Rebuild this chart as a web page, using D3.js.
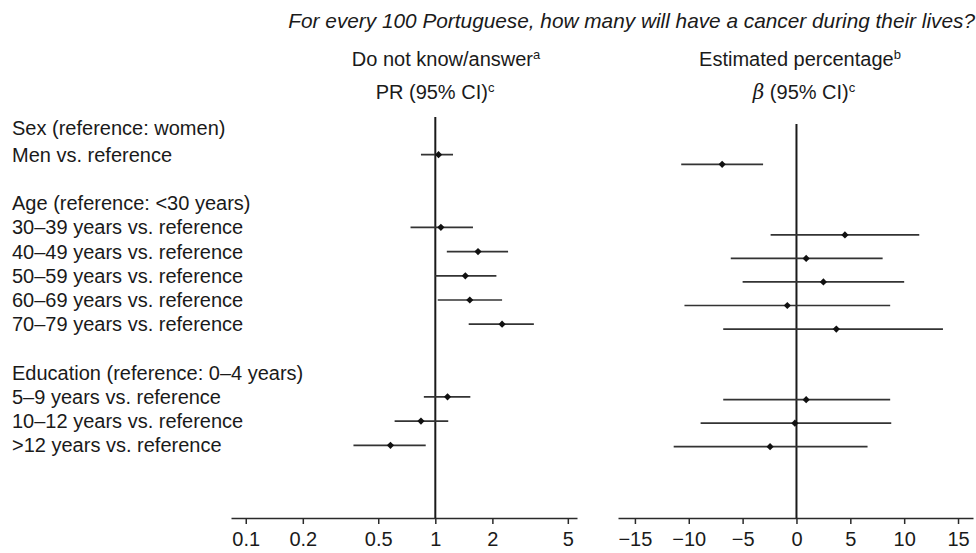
<!DOCTYPE html>
<html>
<head>
<meta charset="utf-8">
<script src="https://cdn.jsdelivr.net/npm/d3@7"></script>
<style>
  body { margin: 0; background: #fff; }
  svg text { font-family: "Liberation Sans", Arial, Helvetica, sans-serif; fill: #1a1a1a; }
  .axis path, .axis line { stroke: #2a2a2a; stroke-width: 1.5; }
  .axis text { font-size: 20px; fill: #1a1a1a; }
</style>
</head>
<body>
<div id="chart"></div>
<script>
// rows of the forest plot (blank strings are spacer rows)
const rowLabels = [
    "Sex (reference: women)",
    "Men vs. reference",
    "",
    "Age (reference: <30 years)",
    "30\u201339 years vs. reference",
    "40\u201349 years vs. reference",
    "50\u201359 years vs. reference",
    "60\u201369 years vs. reference",
    "70\u201379 years vs. reference",
    "",
    "Education (reference: 0\u20134 years)",
    "5\u20139 years vs. reference",
    "10\u201312 years vs. reference",
    ">12 years vs. reference"
];

// Do not know/answer: prevalence ratio and 95% CI
const prValue = [null, 1.04, null, null, 1.07, 1.68, 1.44, 1.52, 2.25, null, null, 1.16, 0.84, 0.58];
const prLow   = [null, 0.84, null, null, 0.74, 1.15, 1.00, 1.03, 1.50, null, null, 0.87, 0.61, 0.37];
const prHigh  = [null, 1.24, null, null, 1.58, 2.42, 2.10, 2.25, 3.31, null, null, 1.53, 1.17, 0.89];

// Estimated percentage: beta and 95% CI
const betaValue = [null, -6.9, null, null, 4.5, 0.9, 2.5, -0.85, 3.7, null, null, 0.9, -0.15, -2.45];
const betaLow   = [null, -10.7, null, null, -2.4, -6.1, -5.0, -10.4, -6.8, null, null, -6.8, -8.9, -11.4];
const betaHigh  = [null, -3.1, null, null, 11.4, 8.0, 10.0, 8.7, 13.6, null, null, 8.7, 8.8, 6.6];

const prTicks = [0.1, 0.2, 0.5, 1, 2, 5];
const betaTicks = [-15, -10, -5, 0, 5, 10, 15];

const WIDTH = 976;
const HEIGHT = 553;
const AXIS_Y = 518;

const svg = d3.select("#chart").append("svg")
    .attr("width", WIDTH)
    .attr("height", HEIGHT);

const rows = rowLabels.map((label, i) => ({
    i: i, label: label,
    pr: prValue[i], prLo: prLow[i], prHi: prHigh[i],
    b: betaValue[i], bLo: betaLow[i], bHi: betaHigh[i]
}));

// the two panels of the scan are not quite aligned, so each gets its own row scale
const yLeft = d3.scaleLinear().domain([1, 13]).range([154.7, 445.3]);
const yRight = d3.scaleLinear().domain([1, 13]).range([164.3, 446.7]);

const xPR = d3.scaleLog().domain([0.0836, 5.59]).range([231, 577]);
const xBeta = d3.scaleLinear().domain([-16.57, 16.39]).range([618, 973]);

// title and column headers
svg.append("text")
    .attr("x", 975).attr("y", 28)
    .attr("text-anchor", "end")
    .style("font-size", "20.8px")
    .style("font-style", "italic")
    .text("For every 100 Portuguese, how many will have a cancer during their lives?");

function header(x, y, parts) {
    let t = svg.append("text")
        .attr("x", x).attr("y", y)
        .attr("text-anchor", "middle")
        .style("font-size", "20px");
    parts.forEach(p => {
        let s = t.append("tspan").text(p.text);
        if (p.sup) s.attr("baseline-shift", "super").style("font-size", "13px");
        if (p.italic) s.style("font-style", "italic").style("font-family", "\"DejaVu Serif\", serif");
    });
}

header(446, 66, [{text: "Do not know/answer"}, {text: "a", sup: true}]);
header(435, 99, [{text: "PR (95% CI)"}, {text: "c", sup: true}]);
header(800, 66, [{text: "Estimated percentage"}, {text: "b", sup: true}]);
header(804, 99, [{text: "\u03B2", italic: true}, {text: " (95% CI)"}, {text: "c", sup: true}]);

// row labels
svg.append("g").selectAll("text")
    .data(rows.filter(d => d.label))
    .enter().append("text")
    .attr("x", 12)
    .attr("y", d => yLeft(d.i) - (d.i === 0 ? 2 : 0))
    .attr("dy", "0.35em")
    .style("font-size", "20px")
    .text(d => d.label);

// axes
svg.append("g")
    .attr("class", "axis")
    .attr("transform", "translate(0," + AXIS_Y + ")")
    .call(d3.axisBottom(xPR).tickValues(prTicks).tickFormat(d3.format("")).tickSize(6).tickSizeOuter(0).tickPadding(8));

svg.append("g")
    .attr("class", "axis")
    .attr("transform", "translate(0," + AXIS_Y + ")")
    .call(d3.axisBottom(xBeta).tickValues(betaTicks).tickSize(6).tickSizeOuter(0).tickPadding(8));

// reference lines
svg.append("line")
    .attr("x1", xPR(1)).attr("x2", xPR(1))
    .attr("y1", 117).attr("y2", AXIS_Y)
    .attr("stroke", "#1a1a1a").attr("stroke-width", 2);

svg.append("line")
    .attr("x1", xBeta(0)).attr("x2", xBeta(0))
    .attr("y1", 124).attr("y2", AXIS_Y)
    .attr("stroke", "#1a1a1a").attr("stroke-width", 2);

const diamond = d3.symbol().type(d3.symbolSquare).size(26);

function panel(data, x, y, val, lo, hi) {
    let g = svg.append("g");
    g.selectAll("line")
        .data(data)
        .enter().append("line")
        .attr("x1", d => x(d[lo]))
        .attr("x2", d => x(d[hi]))
        .attr("y1", d => y(d.i))
        .attr("y2", d => y(d.i))
        .attr("stroke", "#333")
        .attr("stroke-width", 1.7);
    g.selectAll("path")
        .data(data)
        .enter().append("path")
        .attr("d", diamond)
        .attr("transform", d => "translate(" + x(d[val]) + "," + y(d.i) + ") rotate(45)")
        .attr("fill", "#111");
}

panel(rows.filter(d => d.pr !== null), xPR, yLeft, "pr", "prLo", "prHi");
panel(rows.filter(d => d.b !== null), xBeta, yRight, "b", "bLo", "bHi");
</script>
</body>
</html>
